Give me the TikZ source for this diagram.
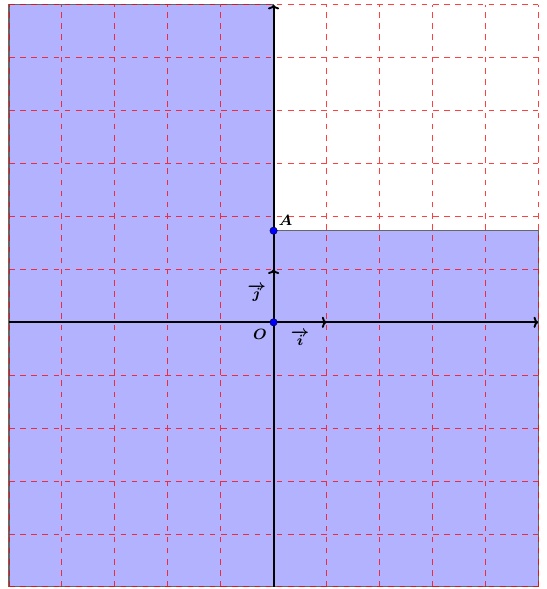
\documentclass[tikz,border=0pt]{standalone}
\usetikzlibrary{arrows.meta}
\begin{document}
\begin{tikzpicture}[x=1cm,y=1cm,
  gridline/.style={red,dashed,opacity=0.75,line width=0.5pt},
  axis/.style={line width=1pt,-{To[length=2.5pt,width=6pt]}},
  vec/.style={line width=1pt,-{To[length=2.5pt,width=6pt]}},
  region/.style={fill=blue!30,draw=black!60,line width=0.6pt},
  pt/.style={circle,fill=blue,draw=black,line width=0.2pt,inner sep=0pt,minimum size=4pt},
  lab/.style={font=\footnotesize\boldmath}]
\useasboundingbox (-5.17,-5.04) rectangle (5.15,6.09);
\filldraw[region] (-5,-5) -- (-5,6) -- (0,6) -- (0,1.73) -- (5,1.73) -- (5,-5) -- cycle;
\draw[gridline] (-5,-5) grid (5,6);
\draw[axis] (-5,0) -- (5,0);
\draw[axis] (0,-5) -- (0,6);
\coordinate (O) at (0,0);
\coordinate (I) at (1,0);
\coordinate (J) at (0,1);
\draw[vec] (O) -- (I);
\draw[vec] (O) -- (J);
\node[pt] (o) at (O) {};
\node[pt] (a) at (0,1.73) {};
\node[lab,anchor=south west,inner sep=1pt] at (a.north east) {$A$};
\node[lab,anchor=north east,inner sep=2pt] at (o.south west) {$O$};
\node[lab] at (0.5,-0.3) {$\overrightarrow{i}$};
\node[lab] at (-0.32,0.55) {$\overrightarrow{j}$};
\end{tikzpicture}
\end{document}
